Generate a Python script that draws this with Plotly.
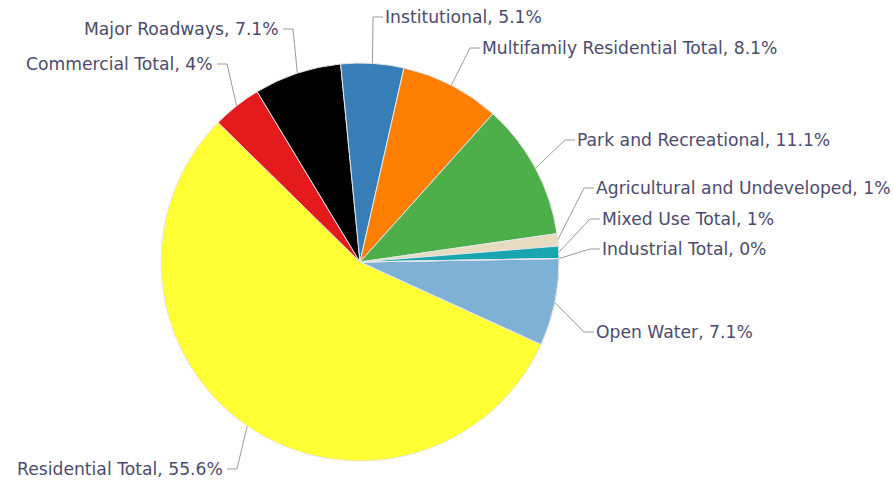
import math
import plotly.graph_objects as go

# Land use shares (percent of total area), listed clockwise from the 3 o'clock position
categories = [
    "Open Water",
    "Residential Total",
    "Commercial Total",
    "Major Roadways",
    "Institutional",
    "Multifamily Residential Total",
    "Park and Recreational",
    "Agricultural and Undeveloped",
    "Mixed Use Total",
    "Industrial Total",
]
shares = [7.1, 55.6, 4, 7.1, 5.1, 8.1, 11.1, 1, 1, 0]
colors = [
    "#7fb1d6", "#ffff33", "#e41a1c", "#000000", "#377eb8",
    "#ff7f00", "#4daf4a", "#e8dcc0", "#17a6b0", "#9e9e9e",
]

# Canvas and pie geometry (pixels)
W, H = 893, 482
CX, CY, R = 360, 262, 199
ROTATION = 89

# Where each label's text is anchored: (x, y, side the text extends from)
label_pos = {
    "Open Water": (594, 332, "left"),
    "Residential Total": (225, 469, "right"),
    "Commercial Total": (215, 64, "right"),
    "Major Roadways": (281, 29, "right"),
    "Institutional": (383, 17, "left"),
    "Multifamily Residential Total": (480, 48, "left"),
    "Park and Recreational": (575, 140, "left"),
    "Agricultural and Undeveloped": (594, 188, "left"),
    "Mixed Use Total": (600, 219, "left"),
    "Industrial Total": (600, 249, "left"),
}

TEXT_COLOR = "#4b4b6d"
LINE_COLOR = "#9a9a9a"
FONT = dict(family="DejaVu Sans", size=17.2, color=TEXT_COLOR)

fig = go.Figure()

fig.add_trace(go.Pie(
    labels=categories,
    values=shares,
    sort=False,
    direction="clockwise",
    rotation=ROTATION,
    marker=dict(colors=colors, line=dict(color="#e6e6e6", width=1)),
    textinfo="none",
    hoverinfo="label+percent",
    showlegend=False,
    domain=dict(
        x=[(CX - R) / W, (CX + R) / W],
        y=[1 - (CY + R) / H, 1 - (CY - R) / H],
    ),
))

# Connector lines from each slice's outer midpoint to its label
total = sum(shares)
angle = ROTATION
xs, ys = [], []
annotations = []
for name, val in zip(categories, shares):
    sweep = val / total * 360
    mid = math.radians(angle + sweep / 2)
    angle += sweep
    ex = CX + R * math.sin(mid)
    ey = CY - R * math.cos(mid)
    tx, ty, side = label_pos[name]
    if side == "left":
        end_x = tx
        elbow_x = end_x - 10
    else:
        end_x = tx + 2
        elbow_x = end_x + 10
    xs += [ex, elbow_x, end_x, None]
    ys += [ey, ty, ty, None]
    annotations.append(dict(
        x=tx, y=ty, xref="x", yref="y",
        text=f"{name}, {val:g}%",
        showarrow=False,
        xanchor=side, yanchor="middle",
        font=FONT,
    ))

fig.add_trace(go.Scatter(
    x=xs, y=ys, mode="lines",
    line=dict(color=LINE_COLOR, width=1),
    hoverinfo="skip", showlegend=False,
))

fig.update_layout(
    width=W, height=H,
    margin=dict(l=0, r=0, t=0, b=0),
    paper_bgcolor="white",
    plot_bgcolor="rgba(0,0,0,0)",
    xaxis=dict(range=[0, W], visible=False, fixedrange=True, domain=[0, 1]),
    yaxis=dict(range=[H, 0], visible=False, fixedrange=True, domain=[0, 1]),
    annotations=annotations,
    showlegend=False,
)

fig.write_html("out.html")
